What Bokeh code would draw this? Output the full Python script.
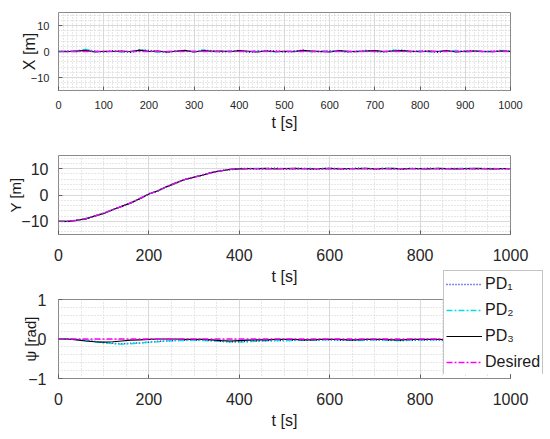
from bokeh.plotting import figure
from bokeh.models import SingleIntervalTicker, Range1d
from bokeh.layouts import column
from bokeh.embed import file_html
from bokeh.resources import INLINE

t = list(range(0, 1001, 20))

x_pd1 = [0.0, 0.2, -0.1, 0.6, 0.2, -0.2, 0.3, 0.0, -0.3, 0.5,
         0.4, 0.1, -0.4, 0.2, 0.3, -0.1, 0.5, 0.3, -0.2, 0.1,
         0.4, -0.3, 0.0, 0.3, 0.2, -0.2, 0.1, 0.5, 0.0, -0.1,
         0.3, 0.2, -0.3, 0.1, 0.4, 0.0, -0.2, 0.3, 0.5, -0.1,
         0.2, 0.1, -0.3, 0.4, 0.0, 0.2, 0.3, -0.1, 0.1, 0.4,
         0.0]
x_pd2 = [0.0, 0.1, 0.3, 0.8, 0.1, -0.1, 0.2, -0.2, 0.1, 0.7,
         0.2, -0.3, -0.1, 0.3, 0.1, 0.2, 0.6, -0.1, 0.0, 0.3,
         0.2, -0.1, 0.4, 0.1, -0.2, 0.0, 0.3, 0.2, -0.1, 0.2,
         0.1, 0.4, -0.1, 0.2, 0.0, 0.3, -0.1, 0.6, 0.1, 0.0,
         0.3, -0.2, 0.1, 0.2, 0.4, -0.1, 0.1, 0.2, 0.0, 0.3,
         0.1]
x_pd3 = [0.0, -0.1, 0.2, 0.4, -0.2, 0.1, 0.0, 0.2, -0.1, 0.5,
         0.0, 0.2, -0.2, 0.1, 0.4, -0.2, 0.3, 0.1, 0.2, -0.1,
         0.3, 0.1, -0.2, 0.2, 0.0, 0.1, -0.1, 0.4, 0.2, 0.0,
         -0.2, 0.3, 0.1, -0.1, 0.2, 0.3, 0.0, 0.2, 0.3, 0.1,
         -0.1, 0.2, 0.0, 0.3, -0.2, 0.1, 0.2, 0.0, -0.1, 0.2,
         0.0]
x_des = [0.0] * len(t)

y_des = [-10.0, -10.0, -9.6, -9.0, -8.0, -6.9, -5.6, -4.3, -3.0, -1.3,
         0.4, 1.6, 3.2, 4.6, 5.9, 6.8, 7.6, 8.6, 9.2, 9.7,
         9.9, 10.0, 10.0, 10.0, 10.0, 10.0, 10.0, 10.0, 10.0, 10.0,
         10.0, 10.0, 10.0, 10.0, 10.0, 10.0, 10.0, 10.0, 10.0, 10.0,
         10.0, 10.0, 10.0, 10.0, 10.0, 10.0, 10.0, 10.0, 10.0, 10.0,
         10.0]
y_pd1 = [-10.0, -10.1, -9.5, -9.2, -7.9, -7.0, -5.5, -4.4, -2.9, -1.5,
         0.5, 1.5, 3.3, 4.5, 6.0, 6.7, 7.7, 8.5, 9.3, 9.6,
         10.0, 10.1, 9.9, 10.0, 10.2, 9.9, 10.0, 10.1, 9.8, 10.0,
         10.1, 10.0, 9.9, 10.2, 10.0, 9.9, 10.1, 10.0, 9.8, 10.1,
         10.0, 10.2, 9.9, 10.0, 10.1, 9.9, 10.0, 10.1, 9.9, 10.0,
         9.9]
y_pd2 = [-10.0, -9.9, -9.7, -8.9, -8.1, -6.8, -5.7, -4.2, -3.1, -1.2,
         0.3, 1.7, 3.1, 4.7, 5.8, 6.9, 7.5, 8.7, 9.1, 9.8,
         9.9, 10.0, 10.1, 9.9, 10.0, 10.1, 9.9, 10.0, 10.2, 9.9,
         10.0, 10.1, 10.0, 9.9, 10.1, 10.0, 10.2, 9.9, 10.0, 10.1,
         9.9, 10.0, 10.1, 9.9, 10.0, 10.2, 9.9, 10.0, 10.1, 10.0,
         10.0]
y_pd3 = [-10.0, -10.0, -9.6, -9.1, -8.0, -7.0, -5.6, -4.3, -3.0, -1.4,
         0.4, 1.6, 3.2, 4.6, 5.9, 6.8, 7.6, 8.6, 9.2, 9.7,
         9.9, 10.0, 10.0, 10.1, 9.9, 10.0, 10.1, 10.0, 9.9, 10.0,
         10.1, 9.9, 10.0, 10.0, 10.1, 9.9, 10.0, 10.1, 9.9, 10.0,
         10.0, 9.9, 10.1, 10.0, 9.9, 10.0, 10.1, 10.0, 9.9, 10.0,
         10.0]

psi_pd1 = [0.0, 0.0, -0.01, -0.03, -0.06, -0.09, -0.11, -0.12, -0.11, -0.10,
           -0.08, -0.06, -0.05, -0.04, -0.03, -0.03, -0.03, -0.04, -0.06, -0.07,
           -0.07, -0.06, -0.05, -0.04, -0.04, -0.04, -0.03, -0.03, -0.03, -0.02,
           -0.02, -0.03, -0.03, -0.03, -0.02, -0.02, -0.03, -0.03, -0.04, -0.03,
           -0.03, -0.02, -0.02, -0.03, -0.03, -0.02, -0.02, -0.02, -0.03, -0.02,
           -0.02]
psi_pd2 = [0.0, 0.0, -0.01, -0.04, -0.07, -0.10, -0.12, -0.13, -0.12, -0.10,
           -0.08, -0.07, -0.05, -0.04, -0.04, -0.03, -0.04, -0.05, -0.06, -0.07,
           -0.08, -0.07, -0.06, -0.05, -0.04, -0.04, -0.04, -0.03, -0.03, -0.03,
           -0.02, -0.02, -0.03, -0.04, -0.03, -0.03, -0.03, -0.04, -0.04, -0.03,
           -0.03, -0.03, -0.02, -0.02, -0.03, -0.03, -0.02, -0.02, -0.03, -0.03,
           -0.02]
psi_pd3 = [0.0, 0.0, -0.02, -0.05, -0.07, -0.08, -0.07, -0.05, -0.03, -0.02,
           -0.01, 0.0, 0.0, 0.0, -0.01, -0.01, -0.01, -0.02, -0.04, -0.05,
           -0.04, -0.03, -0.02, -0.02, -0.01, -0.01, -0.01, -0.02, -0.02, -0.01,
           -0.01, -0.01, -0.02, -0.02, -0.01, -0.01, -0.01, -0.02, -0.02, -0.01,
           -0.01, -0.01, -0.01, -0.02, -0.02, -0.01, -0.01, -0.01, -0.02, -0.01,
           -0.01]
psi_des = [0.0] * len(t)

legend_labels = ["PD\u2081", "PD\u2082", "PD\u2083", "Desired"]

FONT = "Liberation Sans"
FRAME = "#8a8a8a"
COLORS = ["#1010c8", "#00dede", "#000000", "#ff00ff"]
DASHES = ["1 2", "6 2 2 2", "solid", "6 2 2 2"]
WIDTHS = [1.5, 1.3, 1.2, 1.3]


def make_fig(height, top, bottom, ylo, yhi, xint, xminor, yint, yminor,
             tick_size, xlabel_size, ylabel, ylabel_size,
             xtick_so, xlabel_so, ytick_so, ylabel_so):
    p = figure(width=550, height=height, output_backend="svg", toolbar_location=None,
               x_range=Range1d(0, 1000), y_range=Range1d(ylo, yhi),
               min_border_left=58, min_border_right=40,
               min_border_top=top, min_border_bottom=bottom)
    p.frame_align = False
    p.xaxis.ticker = SingleIntervalTicker(interval=xint, num_minor_ticks=xminor)
    p.yaxis.ticker = SingleIntervalTicker(interval=yint, num_minor_ticks=yminor)
    p.background_fill_color = "white"
    p.border_fill_color = "white"
    p.outline_line_color = FRAME
    p.outline_line_width = 1
    for ax in (p.xaxis, p.yaxis):
        ax.axis_line_color = None
        ax.major_tick_in = 4
        ax.major_tick_out = 0
        ax.major_tick_line_color = "#606060"
        ax.minor_tick_line_color = None
        ax.major_label_text_font = FONT
        ax.major_label_text_font_size = tick_size
        ax.major_label_text_color = "#262626"
        ax.axis_label_text_font = FONT
        ax.axis_label_text_font_style = "normal"
        ax.axis_label_text_color = "#1a1a1a"
    p.xaxis.axis_label = "t [s]"
    p.xaxis.axis_label_text_font_size = xlabel_size
    p.xaxis.major_label_standoff = xtick_so
    p.xaxis.axis_label_standoff = xlabel_so
    p.yaxis.axis_label = ylabel
    p.yaxis.axis_label_text_font_size = ylabel_size
    p.yaxis.major_label_standoff = ytick_so
    p.yaxis.axis_label_standoff = ylabel_so
    for g in (p.xgrid, p.ygrid):
        g.grid_line_color = "#d9d9d9"
        g.grid_line_width = 1
        g.minor_grid_line_color = "#cfcfcf"
        g.minor_grid_line_dash = "1 2"
        g.minor_grid_line_width = 1
    return p


p1 = make_fig(140, 12, 50, -15, 15, 100, 10, 10, 5,
              "11px", "16px", "X [m]", "16px", 6, 2, 5, -10)
for ys, c, d, w in zip([x_pd1, x_pd2, x_pd3, x_des], COLORS, DASHES, WIDTHS):
    p1.line(t, ys, line_color=c, line_dash=d, line_width=w)

p2 = make_fig(150, 15, 56, -15, 15, 200, 4, 10, 5,
              "16px", "16px", "Y [m]", "15px", 10, 4, 6, -6)
for ys, c, d, w in zip([y_pd1, y_pd2, y_pd3, y_des], COLORS, DASHES, WIDTHS):
    p2.line(t, ys, line_color=c, line_dash=d, line_width=w)

p3 = make_fig(149, 9, 61, -1, 1, 200, 4, 1, 5,
              "16px", "16px", "\u03c8 [rad]", "15px", 10, 4, 8, -14)
for ys, c, d, w in zip([psi_pd1, psi_pd2, psi_pd3, psi_des], COLORS, DASHES, WIDTHS):
    p3.line(t, ys, line_color=c, line_dash=d, line_width=w)

# legend panel for the psi plot, laid over its lower right corner;
# its own ranges keep the series out of view so only the legend shows
pl = figure(width=101, height=105, output_backend="svg", toolbar_location=None,
            x_range=Range1d(-3000, -2000), y_range=Range1d(50, 60),
            x_axis_type=None, y_axis_type=None,
            min_border=0, min_border_left=0, min_border_right=0,
            min_border_top=0, min_border_bottom=0)
pl.frame_align = False
pl.grid.visible = False
pl.outline_line_color = None
pl.background_fill_color = None
pl.border_fill_color = None
for ys, c, d, w, lab in zip([psi_pd1, psi_pd2, psi_pd3, psi_des], COLORS, DASHES, WIDTHS, legend_labels):
    pl.line(t, ys, line_color=c, line_dash=d, line_width=w, legend_label=lab)
lg = pl.legend[0]
lg.location = "top_left"
lg.border_line_color = FRAME
lg.border_line_width = 1
lg.background_fill_color = "white"
lg.background_fill_alpha = 1.0
lg.label_text_font = FONT
lg.label_text_font_size = "16px"
lg.label_text_color = "#1a1a1a"
lg.glyph_width = 36
lg.glyph_height = 20
lg.label_height = 21
lg.spacing = 5
lg.padding = 2
lg.margin = 1
lg.label_standoff = 3
pl.styles = {"position": "absolute", "left": "442px", "top": "269px", "z-index": "10"}

layout = column(p1, p2, p3, pl)
open("out.html", "w").write(file_html(layout, INLINE))
